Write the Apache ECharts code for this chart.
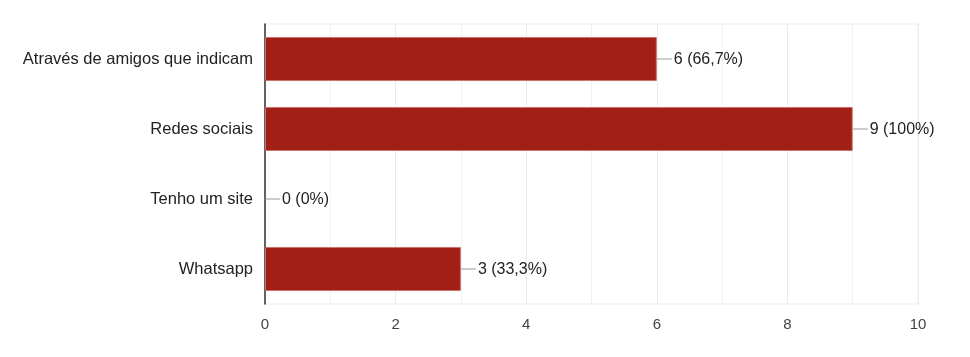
<!DOCTYPE html>
<html>
<head>
<meta charset="utf-8">
<script src="https://cdn.jsdelivr.net/npm/echarts@6/dist/echarts.min.js"></script>
<style>html,body{margin:0;padding:0;background:#fff}#c{width:970px;height:357px}</style>
</head>
<body>
<div id="c"></div>
<script>
const categories = ["Através de amigos que indicam", "Redes sociais", "Tenho um site", "Whatsapp"];
const values = [6, 9, 0, 3];
const percents = ["66,7%", "100%", "0%", "33,3%"];
const xTicks = [0, 2, 4, 6, 8, 10];

const chart = echarts.init(document.getElementById('c'), null, {renderer: 'canvas'});
chart.setOption({
  animation: false,
  grid: {left: 265, right: 52, top: 24, bottom: 53, show: true, borderColor: '#ebebeb', borderWidth: 1},
  xAxis: {
    type: 'value', min: xTicks[0], max: xTicks[xTicks.length - 1], interval: 2,
    axisLine: {show: false}, axisTick: {show: false},
    axisLabel: {color: '#444', fontSize: 15, fontFamily: 'Liberation Sans', margin: 13},
    splitLine: {show: true, lineStyle: {color: '#ebebeb', width: 1}},
    minorSplitLine: {show: true, lineStyle: {color: '#f2f2f2', width: 1}},
    minorTick: {show: false, splitNumber: 2}
  },
  yAxis: {
    type: 'category', data: categories, inverse: true,
    axisLine: {show: true, lineStyle: {color: '#333', width: 1.5}},
    axisTick: {show: false},
    axisLabel: {color: '#222', fontSize: 16.5, fontFamily: 'Liberation Sans', margin: 12, padding: [2, 0, 0, 0]},
    splitLine: {show: false}
  },
  series: [{
    type: 'bar',
    data: values.map(v => ({value: v, itemStyle: {borderWidth: v === 0 ? 0 : 1}})),
    barWidth: 44,
    itemStyle: {color: '#a21f15', borderColor: '#c9716b', borderWidth: 1},
    label: {
      show: true, position: 'right', distance: 0,
      formatter: p => '{l|}{t|' + p.value + ' (' + percents[p.dataIndex] + ')}',
      rich: {
        l: {width: 15, height: 1, backgroundColor: '#999', verticalAlign: 'middle'},
        t: {color: '#222', fontSize: 16, fontFamily: 'Liberation Sans', padding: [2, 0, 0, 2], verticalAlign: 'middle'}
      }
    }
  }]
});
</script>
</body>
</html>
